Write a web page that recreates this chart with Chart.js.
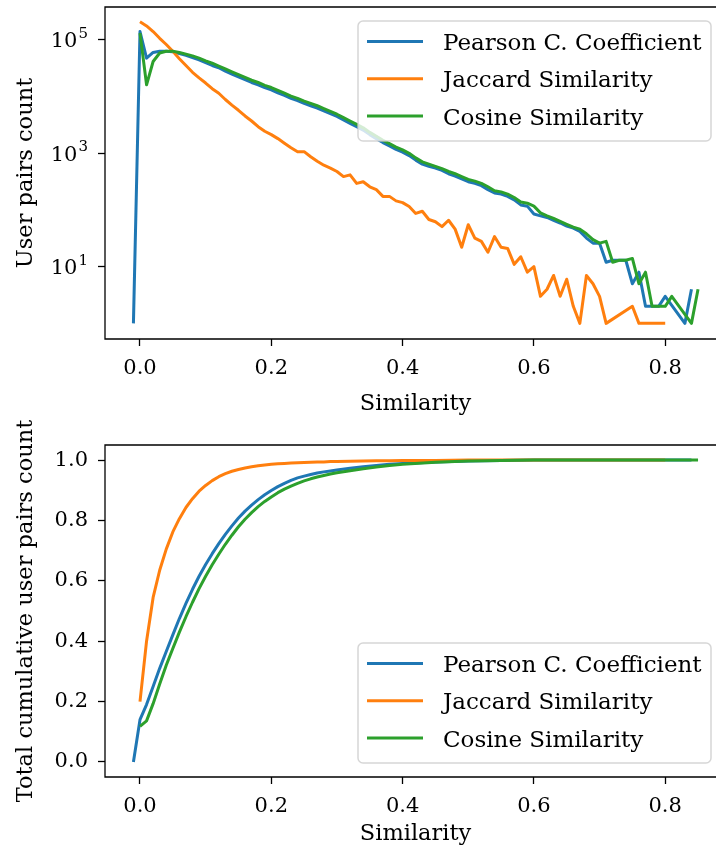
<!DOCTYPE html>
<html>
<head>
<meta charset="utf-8">
<script src="https://cdn.jsdelivr.net/npm/chart.js@4.4.0/dist/chart.umd.min.js"></script>
<style>
    html, body { margin: 0; padding: 0; background: #fff; width: 716px; height: 854px; overflow: hidden; }
    .plot { position: absolute; left: 0; }
    #plotCount { top: 0; }
    #plotCum { top: 400px; }
</style>
</head>
<body>
<div class="plot" id="plotCount"><canvas id="countChart" width="740" height="425"></canvas></div>
<div class="plot" id="plotCum"><canvas id="cumChart" width="740" height="454"></canvas></div>
<script>
// similarity bins of the histogram (top plot)
var similarity = [-0.01, 0.00, 0.01, 0.02, 0.03, 0.04, 0.05, 0.06, 0.07, 0.08, 0.09,
    0.10, 0.11, 0.12, 0.13, 0.14, 0.15, 0.16, 0.17, 0.18, 0.19,
    0.20, 0.21, 0.22, 0.23, 0.24, 0.25, 0.26, 0.27, 0.28, 0.29,
    0.30, 0.31, 0.32, 0.33, 0.34, 0.35, 0.36, 0.37, 0.38, 0.39,
    0.40, 0.41, 0.42, 0.43, 0.44, 0.45, 0.46, 0.47, 0.48, 0.49,
    0.50, 0.51, 0.52, 0.53, 0.54, 0.55, 0.56, 0.57, 0.58, 0.59,
    0.60, 0.61, 0.62, 0.63, 0.64, 0.65, 0.66, 0.67, 0.68, 0.69,
    0.70, 0.71, 0.72, 0.73, 0.74, 0.75, 0.76, 0.77, 0.78, 0.79,
    0.80, 0.81, 0.82, 0.83, 0.84, 0.85];

var pearsonCount = [1, 141000, 47900, 60300, 63100, 63100, 61700, 57500, 53700, 49000, 44700,
    39800, 35500, 32400, 28200, 25100, 22400, 20000, 17800, 16200, 14500,
    13200, 11700, 10500, 9330, 8510, 7590, 6920, 6310, 5620, 5010,
    4470, 3890, 3390, 2950, 2570, 2140, 1820, 1550, 1350, 1170,
    1050, 912, 759, 646, 589, 550, 501, 437, 398, 355,
    316, 295, 269, 229, 200, 191, 174, 151, 123, 117,
    85, 79, 74, 66, 59, 52, 48, 42, 32, 26,
    26, 12, 13, 13, 13, 5, 8, 2, 2, 2,
    3, null, null, 1, 4, null];

var jaccardCount = [null, 209000, 177000, 141000, 107000, 83200, 63100, 46800, 35500, 26900, 21400,
    17400, 13800, 11500, 8910, 7080, 5750, 4570, 3720, 2950, 2450,
    2140, 1820, 1510, 1260, 1070, 1070, 871, 724, 617, 550,
    479, 389, 417, 295, 316, 257, 229, 174, 174, 145,
    135, 115, 87, 95, 68, 62, 51, 66, 46, 22,
    55, 32, 28, 18, 34, 22, 21, 11, 15, 8,
    10, 3, 4, 7, 3, 6, 2, 1, 7, 5,
    3, 1, null, null, null, 2, 1, 1, 1, 1,
    1, null, null, null, null, null];

var cosineCount = [null, 132000, 16200, 41700, 58900, 63100, 63100, 60300, 56200, 52500, 47900,
    42700, 38900, 34700, 30900, 27500, 24500, 21900, 19500, 17800, 15800,
    14500, 12900, 11500, 10200, 9330, 8320, 7590, 6920, 6170, 5500,
    4900, 4270, 3720, 3240, 2820, 2340, 2000, 1700, 1480, 1290,
    1150, 1000, 832, 708, 646, 589, 537, 479, 437, 389,
    347, 324, 295, 257, 219, 209, 191, 166, 138, 132,
    117, 89, 79, 71, 63, 56, 50, 46, 38, 30,
    26, 28, 12, 13, 13, 14, 5, 8, 2, 2,
    2, 3, null, null, 1, 4];

// cumulative share (bottom plot)
var cumSimilarity = [-0.01, 0.00, 0.01, 0.02, 0.03, 0.04, 0.05, 0.06, 0.07, 0.08, 0.09,
    0.10, 0.11, 0.12, 0.13, 0.14, 0.15, 0.16, 0.17, 0.18, 0.19,
    0.20, 0.21, 0.22, 0.23, 0.24, 0.25, 0.26, 0.27, 0.28, 0.29,
    0.30, 0.32, 0.34, 0.36, 0.38, 0.40, 0.45, 0.50, 0.55, 0.60,
    0.65, 0.70, 0.75, 0.80, 0.84, 0.85];

var pearsonCum = [0.0, 0.14, 0.19, 0.25, 0.31, 0.366, 0.421, 0.475, 0.525, 0.572, 0.615,
    0.654, 0.69, 0.723, 0.754, 0.782, 0.808, 0.831, 0.851, 0.869, 0.885,
    0.899, 0.912, 0.923, 0.933, 0.941, 0.947, 0.952, 0.957, 0.961, 0.964,
    0.967, 0.973, 0.978, 0.982, 0.986, 0.989, 0.994, 0.997, 0.999, 1.0,
    1.0, 1.0, 1.0, 1.0, 1.0, null];

var jaccardCum = [null, 0.20, 0.40, 0.545, 0.635, 0.705, 0.762, 0.806, 0.843, 0.872, 0.897,
    0.916, 0.932, 0.945, 0.955, 0.963, 0.969, 0.974, 0.978, 0.981, 0.984,
    0.986, 0.988, 0.989, 0.990, 0.991, 0.992, 0.993, 0.994, 0.994, 0.995,
    0.995, 0.996, 0.997, 0.998, 0.998, 0.999, 0.999, 1.0, 1.0, 1.0,
    1.0, 1.0, 1.0, 1.0, null, null];

var cosineCum = [null, 0.118, 0.136, 0.193, 0.258, 0.320, 0.376, 0.430, 0.481, 0.529, 0.574,
    0.615, 0.653, 0.688, 0.721, 0.751, 0.779, 0.804, 0.826, 0.846, 0.863,
    0.878, 0.892, 0.904, 0.914, 0.923, 0.931, 0.938, 0.944, 0.949, 0.954,
    0.958, 0.965, 0.971, 0.977, 0.982, 0.986, 0.993, 0.997, 0.999, 1.0,
    1.0, 1.0, 1.0, 1.0, 1.0, 1.0];

var seriesNames = ["Pearson C. Coefficient", "Jaccard Similarity", "Cosine Similarity"];
var seriesColors = ["#1f77b4", "#ff7f0e", "#2ca02c"];

var simTicks = [0.0, 0.2, 0.4, 0.6, 0.8];
var simTickLabels = ["0.0", "0.2", "0.4", "0.6", "0.8"];
var countTicks = [10, 1000, 100000];
var countTickExponents = ["1", "3", "5"];
var cumTicks = [0.0, 0.2, 0.4, 0.6, 0.8, 1.0];
var cumTickLabels = ["0.0", "0.2", "0.4", "0.6", "0.8", "1.0"];

var serif = "'DejaVu Serif', serif";

function toPoints(xs, ys) {
    return xs.map(function (x, i) { return { x: x, y: ys[i] }; })
        .filter(function (p) { return p.y !== null; });
}

function lineDataset(i, xs, ys) {
    return {
        label: seriesNames[i],
        data: toPoints(xs, ys),
        borderColor: seriesColors[i],
        backgroundColor: seriesColors[i],
        borderWidth: 3,
        pointRadius: 0,
        tension: 0,
        borderJoinStyle: "round",
        order: 3 - i
    };
}

// spines: left, top, bottom (the right one falls outside the page)
var frameBox = {
    id: "frameBox",
    afterDatasetsDraw: function (chart) {
        var a = chart.chartArea, ctx = chart.ctx;
        ctx.save();
        ctx.strokeStyle = "#000";
        ctx.lineWidth = 1.3;
        ctx.beginPath();
        ctx.moveTo(a.right + 2, a.top);
        ctx.lineTo(a.left, a.top);
        ctx.lineTo(a.left, a.bottom);
        ctx.lineTo(a.right + 2, a.bottom);
        ctx.stroke();
        ctx.restore();
    }
};

// 10^n labels of the log axis, with a real raised exponent
var powerLabels = {
    id: "powerLabels",
    afterDraw: function (chart) {
        var scale = chart.scales.y, ctx = chart.ctx;
        if (scale.type !== "logarithmic") return;
        var right = scale.right - 7 - 10;
        ctx.save();
        ctx.fillStyle = "#000";
        ctx.textAlign = "right";
        ctx.textBaseline = "alphabetic";
        countTicks.forEach(function (v, i) {
            var y = scale.getPixelForValue(v);
            ctx.font = "15px " + serif;
            var expW = ctx.measureText(countTickExponents[i]).width;
            ctx.fillText(countTickExponents[i], right, y - 2);
            ctx.font = "21px " + serif;
            ctx.fillText("10", right - expW - 1, y + 7.5);
        });
        ctx.restore();
    }
};

// legend drawn inside the axes
var innerLegend = {
    id: "innerLegend",
    afterDraw: function (chart, args, opts) {
        var a = chart.chartArea, ctx = chart.ctx;
        var w = 353, h = 120;
        var left = a.right - 15 - w;
        var top = opts.corner === "top" ? a.top + 14 : a.bottom - 14 - h;
        ctx.save();
        ctx.beginPath();
        ctx.roundRect(left, top, w, h, 5);
        ctx.fillStyle = "rgba(255,255,255,0.8)";
        ctx.fill();
        ctx.strokeStyle = "rgba(204,204,204,0.8)";
        ctx.lineWidth = 1.5;
        ctx.stroke();
        ctx.font = "23px " + serif;
        ctx.textBaseline = "alphabetic";
        chart.data.datasets.forEach(function (ds, i) {
            var yRow = top + 20.5 + i * 37.3;
            ctx.beginPath();
            ctx.moveTo(left + 9, yRow);
            ctx.lineTo(left + 65, yRow);
            ctx.strokeStyle = ds.borderColor;
            ctx.lineWidth = 3;
            ctx.stroke();
            ctx.fillStyle = "#000";
            ctx.fillText(ds.label, left + 85, yRow + 8.5);
        });
        ctx.restore();
    }
};

function noPadding(scale) {
    scale.paddingTop = 0;
    scale.paddingBottom = 0;
    scale.paddingLeft = 0;
    scale.paddingRight = 0;
}

function axisX(axisHeight, titlePad) {
    return {
        type: "linear",
        min: -0.0533,
        max: 0.8926,
        afterBuildTicks: function (scale) {
            scale.ticks = simTicks.map(function (v) { return { value: v }; });
        },
        afterFit: function (scale) { scale.height = axisHeight; noPadding(scale); },
        grid: { display: true, drawOnChartArea: false, drawTicks: true, tickLength: 7, tickWidth: 1.3, tickColor: "#000" },
        border: { display: false },
        ticks: {
            color: "#000",
            font: { family: serif, size: 21 },
            padding: 10,
            maxRotation: 0,
            callback: function (v) { return simTickLabels[simTicks.indexOf(v)]; }
        },
        title: { display: true, text: "Similarity", color: "#000", font: { family: serif, size: 22.5 }, padding: { top: 0, bottom: titlePad } }
    };
}

function axisY(extra) {
    var base = {
        afterFit: function (scale) { scale.width = 105; noPadding(scale); },
        grid: { display: true, drawOnChartArea: false, drawTicks: true, tickLength: 7, tickWidth: 1.3, tickColor: "#000" },
        border: { display: false }
    };
    return Object.assign(base, extra);
}

var countChart = new Chart(document.getElementById("countChart").getContext("2d"), {
    type: "line",
    data: {
        datasets: [
            lineDataset(0, similarity, pearsonCount),
            lineDataset(1, similarity, jaccardCount),
            lineDataset(2, similarity, cosineCount)
        ]
    },
    options: {
        responsive: false,
        animation: false,
        layout: { padding: { top: 7, right: 14, left: 0, bottom: 0 } },
        plugins: {
            legend: { display: false },
            tooltip: { enabled: false },
            innerLegend: { corner: "top" }
        },
        scales: {
            x: axisX(86, 7),
            y: axisY({
                type: "logarithmic",
                min: 0.53,
                max: 382000,
                afterBuildTicks: function (scale) {
                    scale.ticks = countTicks.map(function (v) { return { value: v }; });
                },
                ticks: {
                    color: "#000", font: { family: serif, size: 21 }, padding: 10,
                    callback: function () { return ""; }
                },
                title: { display: true, text: "User pairs count", color: "#000", font: { family: serif, size: 22.5 }, padding: { top: 13, bottom: 0 } }
            })
        }
    },
    plugins: [frameBox, powerLabels, innerLegend]
});

var cumChart = new Chart(document.getElementById("cumChart").getContext("2d"), {
    type: "line",
    data: {
        datasets: [
            lineDataset(0, cumSimilarity, pearsonCum),
            lineDataset(1, cumSimilarity, jaccardCum),
            lineDataset(2, cumSimilarity, cosineCum)
        ]
    },
    options: {
        responsive: false,
        animation: false,
        layout: { padding: { top: 45, right: 14, left: 0, bottom: 0 } },
        plugins: {
            legend: { display: false },
            tooltip: { enabled: false },
            innerLegend: { corner: "bottom" }
        },
        scales: {
            x: axisX(77, 6),
            y: axisY({
                type: "linear",
                min: -0.05,
                max: 1.05,
                afterBuildTicks: function (scale) {
                    scale.ticks = cumTicks.map(function (v) { return { value: v }; });
                },
                ticks: {
                    color: "#000", font: { family: serif, size: 21 }, padding: 10,
                    callback: function (v) { return cumTickLabels[cumTicks.indexOf(v)]; }
                },
                title: { display: true, text: "Total cumulative user pairs count", color: "#000", font: { family: serif, size: 22.5 }, padding: { top: 13, bottom: 0 } }
            })
        }
    },
    plugins: [frameBox, innerLegend]
});
</script>
</body>
</html>
